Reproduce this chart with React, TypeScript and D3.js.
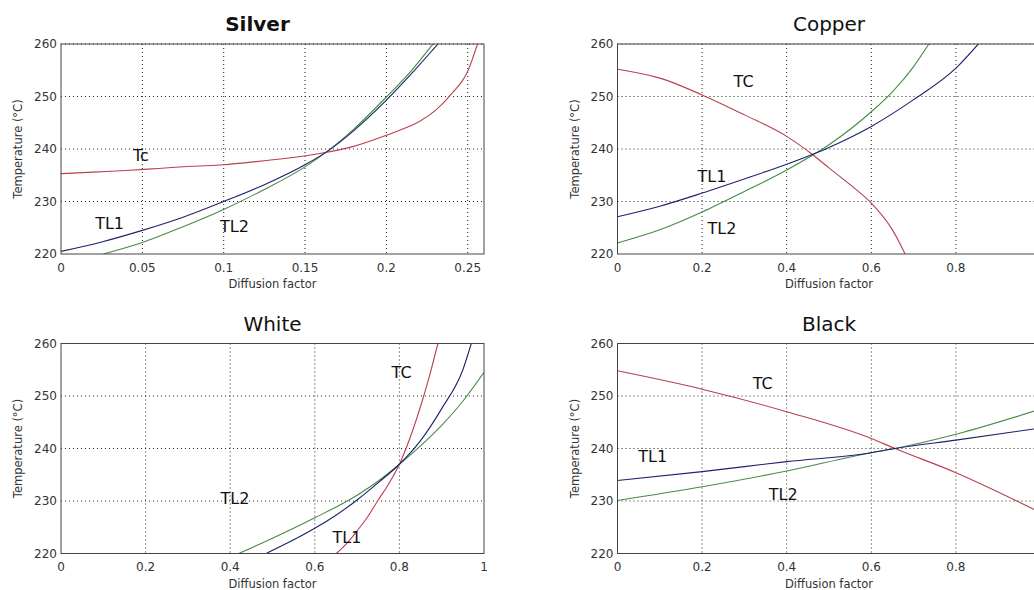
import React from "react";
import * as d3 from "d3";

// ---------- Data ----------
const silverX = [0, 0.05, 0.1, 0.15, 0.2, 0.25];
const copperTicks = [0, 0.2, 0.4, 0.6, 0.8, 1];
const yTicks = [220, 230, 240, 250, 260];

// Silver
const silverTcX = [0, 0.02, 0.04, 0.06, 0.08, 0.1, 0.12, 0.14, 0.16, 0.18, 0.2, 0.21, 0.22, 0.23, 0.24, 0.25, 0.256];
const silverTcY = [235.3, 235.6, 235.9, 236.3, 236.7, 237.0, 237.6, 238.3, 239.2, 240.5, 242.6, 243.8, 245.2, 247.3, 250.5, 254.8, 260];
const silverTl1X = [0, 0.025, 0.05, 0.075, 0.1, 0.125, 0.15, 0.163, 0.18, 0.2, 0.215, 0.2317];
const silverTl1Y = [220.5, 222.3, 224.5, 227.0, 230.0, 233.2, 237.0, 239.4, 243.5, 249.3, 254.2, 260];
const silverTl2X = [0.026, 0.05, 0.075, 0.1, 0.125, 0.15, 0.163, 0.18, 0.2, 0.215, 0.2286];
const silverTl2Y = [220, 222.2, 225.2, 228.5, 232.3, 236.6, 239.4, 243.8, 249.9, 254.8, 260];

// Copper
const copperTcX = [0, 0.1, 0.2, 0.3, 0.4, 0.46, 0.5, 0.55, 0.6, 0.65, 0.68];
const copperTcY = [255.2, 253.5, 250.3, 246.5, 242.4, 239.0, 236.4, 233.2, 229.7, 224.6, 220];
const copperTl1X = [0, 0.1, 0.2, 0.3, 0.4, 0.5, 0.6, 0.7, 0.8, 0.853];
const copperTl1Y = [227.1, 229.1, 231.6, 234.3, 237.1, 240.3, 244.3, 249.4, 255.4, 260];
const copperTl2X = [0, 0.1, 0.2, 0.3, 0.4, 0.5, 0.6, 0.65, 0.7, 0.736];
const copperTl2Y = [222.1, 224.6, 228.0, 231.9, 236.0, 240.8, 247.1, 250.9, 255.7, 260];

// White
const whiteTcX = [0.651, 0.68, 0.7, 0.725, 0.75, 0.775, 0.8, 0.825, 0.85, 0.87, 0.891];
const whiteTcY = [220, 222.3, 224.3, 227.0, 230.2, 233.3, 237.0, 242.0, 248.0, 253.5, 260];
const whiteTl1X = [0.485, 0.55, 0.6, 0.65, 0.7, 0.75, 0.8, 0.85, 0.9, 0.95, 0.97];
const whiteTl1Y = [220, 222.6, 224.8, 227.3, 230.2, 233.5, 237.0, 241.5, 247.6, 255.0, 260];
const whiteTl2X = [0.42, 0.5, 0.6, 0.7, 0.75, 0.8, 0.85, 0.9, 0.95, 1.0];
const whiteTl2Y = [220, 222.9, 226.8, 231.1, 233.8, 237.0, 240.5, 244.4, 249.0, 254.5];

// Black
const blackTcX = [0, 0.2, 0.4, 0.6, 0.656, 0.8, 1.0];
const blackTcY = [254.8, 251.3, 247.0, 241.9, 240.0, 235.4, 227.8];
const blackTl1X = [0, 0.2, 0.4, 0.6, 0.656, 0.8, 1.0];
const blackTl1Y = [233.9, 235.6, 237.5, 239.2, 240.0, 241.6, 243.9];
const blackTl2X = [0, 0.2, 0.4, 0.6, 0.656, 0.8, 1.0];
const blackTl2Y = [230.1, 232.7, 235.7, 239.2, 240.0, 242.7, 247.5];

// Curve labels: [text, x, y] in data coordinates
const silverLabels: [string, number, number][] = [["Tc", 0.0443, 237.8], ["TL1", 0.021, 224.8], ["TL2", 0.0977, 224.1]];
const copperLabels: [string, number, number][] = [["TC", 0.2745, 251.8], ["TL1", 0.189, 233.7], ["TL2", 0.213, 223.8]];
const whiteLabels: [string, number, number][] = [["TC", 0.7816, 253.4], ["TL2", 0.377, 229.4], ["TL1", 0.642, 222.0]];
const blackLabels: [string, number, number][] = [["TC", 0.3196, 251.3], ["TL1", 0.049, 237.4], ["TL2", 0.3575, 230.2]];

const RED = "#b8404e";
const BLUE = "#20206e";
const GREEN = "#468c46";
const FONT = "DejaVu Sans, Verdana, sans-serif";
const VIEW_W = 1034;

const zip = (xs: number[], ys: number[]) => xs.map((x, i) => [x, ys[i]] as [number, number]);

type PanelSpec = {
  title: string;
  bold: boolean;
  titleDx: number;
  left: number;
  top: number;
  xMax: number;
  xTicks: number[];
  tc: [number, number][];
  tl1: [number, number][];
  tl2: [number, number][];
  labels: [string, number, number][];
};

const W = 423;
const H = 210;

const panels: PanelSpec[] = [
  { title: "Silver", bold: true, titleDx: -15, left: 61, top: 44, xMax: 0.26, xTicks: silverX,
    tc: zip(silverTcX, silverTcY), tl1: zip(silverTl1X, silverTl1Y), tl2: zip(silverTl2X, silverTl2Y), labels: silverLabels },
  { title: "Copper", bold: false, titleDx: 0, left: 617.5, top: 44, xMax: 1, xTicks: copperTicks,
    tc: zip(copperTcX, copperTcY), tl1: zip(copperTl1X, copperTl1Y), tl2: zip(copperTl2X, copperTl2Y), labels: copperLabels },
  { title: "White", bold: false, titleDx: 0, left: 61, top: 343.5, xMax: 1, xTicks: copperTicks,
    tc: zip(whiteTcX, whiteTcY), tl1: zip(whiteTl1X, whiteTl1Y), tl2: zip(whiteTl2X, whiteTl2Y), labels: whiteLabels },
  { title: "Black", bold: false, titleDx: 0, left: 617.5, top: 343.5, xMax: 1, xTicks: copperTicks,
    tc: zip(blackTcX, blackTcY), tl1: zip(blackTl1X, blackTl1Y), tl2: zip(blackTl2X, blackTl2Y), labels: blackLabels },
];

function Panel({ p, idx }: { p: PanelSpec; idx: number }) {
  const x = d3.scaleLinear().domain([0, p.xMax]).range([0, W]);
  const y = d3.scaleLinear().domain([220, 260]).range([H, 0]);
  const line = d3.line<[number, number]>().x((d) => x(d[0])).y((d) => y(d[1])).curve(d3.curveMonotoneX);
  const clipId = `clip-${idx}`;
  const fmt = (v: number) => String(+v.toFixed(2));
  // tick labels that would fall outside the visible window are not shown (as in the reference)
  const visibleXTicks = p.xTicks.filter((t) => p.left + x(t) + 4 < VIEW_W);
  return (
    <g transform={`translate(${p.left},${p.top})`}>
      <defs>
        <clipPath id={clipId}>
          <rect x={0} y={0} width={W} height={H} />
        </clipPath>
      </defs>
      <rect x={0} y={0} width={W} height={H} fill="#fff" />
      {/* grid */}
      {p.xTicks.filter((t) => t > 0 && t < p.xMax).map((t) => (
        <line key={"gx" + t} x1={x(t)} x2={x(t)} y1={0} y2={H} stroke="#222" strokeWidth={1} strokeDasharray="1,3" />
      ))}
      {yTicks.filter((t) => t > 220).map((t) => (
        <line key={"gy" + t} x1={0} x2={W} y1={y(t)} y2={y(t)} stroke="#222" strokeWidth={1} strokeDasharray="1,3" />
      ))}
      <g clipPath={`url(#${clipId})`}>
        <path d={line(p.tc) || ""} fill="none" stroke={RED} strokeWidth={1.1} />
        <path d={line(p.tl2) || ""} fill="none" stroke={GREEN} strokeWidth={1.1} />
        <path d={line(p.tl1) || ""} fill="none" stroke={BLUE} strokeWidth={1.1} />
      </g>
      <rect x={0} y={0} width={W} height={H} fill="none" stroke="#444" strokeWidth={1} />
      {/* ticks */}
      {yTicks.map((t) => (
        <text key={"ty" + t} x={-4} y={y(t)} dy="0.36em" textAnchor="end" fontSize={12} fill="#333" fontFamily={FONT}>{t}</text>
      ))}
      {visibleXTicks.map((t) => (
        <text key={"tx" + t} x={x(t)} y={H + 17.5} textAnchor="middle" fontSize={12} fill="#333" fontFamily={FONT}>{fmt(t)}</text>
      ))}
      <text x={W / 2} y={H + 34} textAnchor="middle" fontSize={11.5} fill="#333" fontFamily={FONT}>Diffusion factor</text>
      <text transform={`translate(${-43},${H / 2}) rotate(-90)`} textAnchor="middle" dy="0.35em" fontSize={11.5} fill="#333" fontFamily={FONT}>Temperature (°C)</text>
      <text x={W / 2 + p.titleDx} y={-13} textAnchor="middle" fontSize={20} fontWeight={p.bold ? "bold" : "normal"} fill="#111" fontFamily={FONT}>{p.title}</text>
      {p.labels.map(([s, lx, ly]) => (
        <text key={s} x={x(lx)} y={y(ly)} fontSize={16} fill="#111" fontFamily={FONT}>{s}</text>
      ))}
    </g>
  );
}

export default function App() {
  return (
    <svg width={VIEW_W} height={590} style={{ position: "absolute", left: 0, top: 0, background: "#fff" }}>
      <rect x={0} y={0} width={VIEW_W} height={590} fill="#fff" />
      {panels.map((p, i) => (
        <Panel key={p.title} p={p} idx={i} />
      ))}
    </svg>
  );
}
